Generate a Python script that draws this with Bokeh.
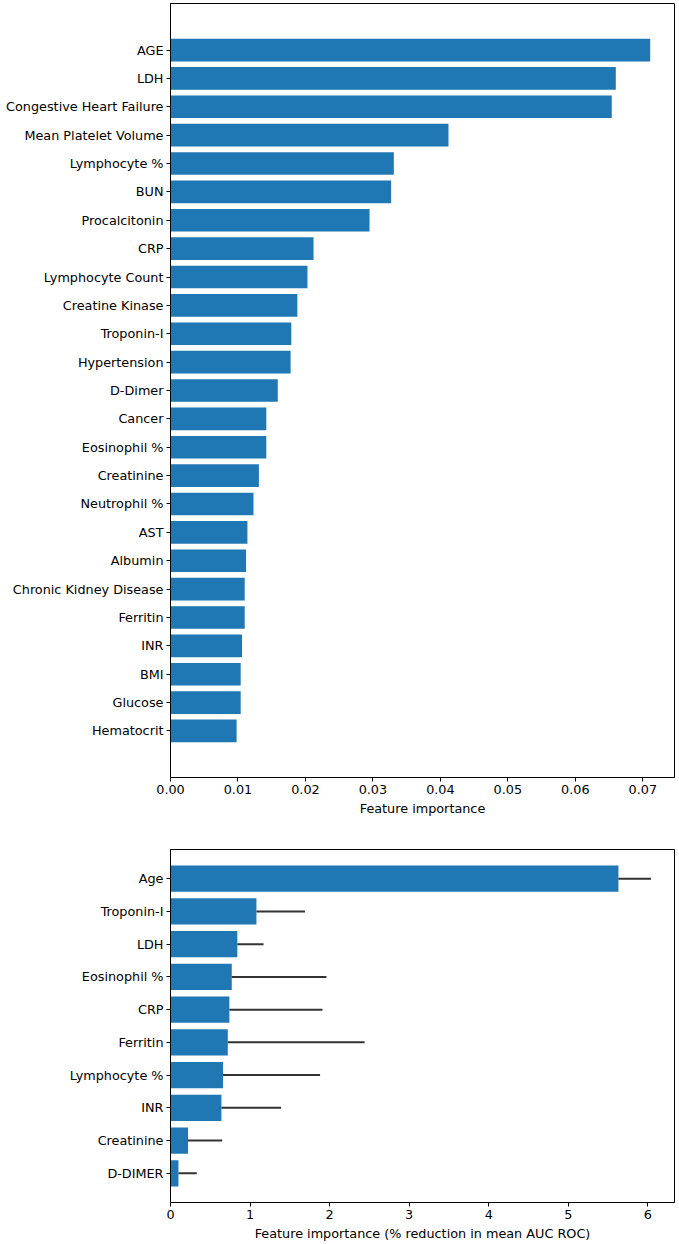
from bokeh.plotting import figure
from bokeh.models import FactorRange, Range1d, FixedTicker, NumeralTickFormatter, ColumnDataSource
from bokeh.layouts import column
from bokeh.embed import file_html
from bokeh.resources import INLINE

# ---- Data: top panel (top-to-bottom order) ----
top_features = ["AGE", "LDH", "Congestive Heart Failure", "Mean Platelet Volume",
                "Lymphocyte %", "BUN", "Procalcitonin", "CRP", "Lymphocyte Count",
                "Creatine Kinase", "Troponin-I", "Hypertension", "D-Dimer", "Cancer",
                "Eosinophil %", "Creatinine", "Neutrophil %", "AST", "Albumin",
                "Chronic Kidney Disease", "Ferritin", "INR", "BMI", "Glucose", "Hematocrit"]
top_values = [0.0711, 0.0660, 0.0654, 0.0412, 0.0331, 0.0327, 0.0295, 0.0212, 0.0203,
              0.0188, 0.0179, 0.0178, 0.0159, 0.0142, 0.0142, 0.0131, 0.0123, 0.0114,
              0.0112, 0.0110, 0.0110, 0.0106, 0.0104, 0.0104, 0.0098]
top_xticks = [0.0, 0.01, 0.02, 0.03, 0.04, 0.05, 0.06, 0.07]

# ---- Data: bottom panel ----
bot_features = ["Age", "Troponin-I", "LDH", "Eosinophil %", "CRP", "Ferritin",
                "Lymphocyte %", "INR", "Creatinine", "D-DIMER"]
bot_values = [5.63, 1.08, 0.84, 0.77, 0.74, 0.72, 0.66, 0.64, 0.22, 0.10]
bot_errors = [0.41, 0.61, 0.33, 1.19, 1.17, 1.72, 1.22, 0.75, 0.43, 0.23]
bot_xticks = [0, 1, 2, 3, 4, 5, 6]

BAR = "#1f77b4"
FONT = "DejaVu Sans"
FS = "12.8px"


def style(p):
    p.outline_line_color = "black"
    p.outline_line_width = 1
    p.xgrid.visible = False
    p.ygrid.visible = False
    for ax in (p.xaxis[0], p.yaxis[0]):
        ax.axis_line_color = "black"
        ax.major_tick_line_color = "black"
        ax.major_tick_in = 0
        ax.major_tick_out = 4
        ax.minor_tick_line_color = None
        ax.major_label_text_font = FONT
        ax.major_label_text_font_size = FS
        ax.major_label_text_color = "black"
        ax.major_label_standoff = 3
        ax.axis_label_text_font = FONT
        ax.axis_label_text_font_size = FS
        ax.axis_label_text_font_style = "normal"
        ax.axis_label_text_color = "black"
        ax.axis_label_standoff = 4


# ---- Top figure ----
top_src = ColumnDataSource(dict(f=top_features, v=top_values))
yr1 = FactorRange(factors=list(reversed(top_features)), range_padding=1.14,
                  range_padding_units="absolute")
p1 = figure(width=678, height=827, y_range=yr1, x_range=Range1d(0, 0.0747),
            output_backend="svg", toolbar_location=None,
            min_border_left=170, min_border_right=4, min_border_top=3, min_border_bottom=50)
p1.hbar(y="f", right="v", left=0, height=0.8, source=top_src, fill_color=BAR, line_color=None)
style(p1)
p1.xaxis.ticker = FixedTicker(ticks=top_xticks)
p1.xaxis.formatter = NumeralTickFormatter(format="0.00")
p1.xaxis.axis_label = "Feature importance"

# ---- Bottom figure ----
bot_src = ColumnDataSource(dict(f=bot_features, v=bot_values,
                                e=[v + e for v, e in zip(bot_values, bot_errors)]))
yr2 = FactorRange(factors=list(reversed(bot_features)), range_padding=0.39,
                  range_padding_units="absolute")
p2 = figure(width=678, height=416, y_range=yr2, x_range=Range1d(0, 6.335),
            output_backend="svg", toolbar_location=None,
            min_border_left=170, min_border_right=2, min_border_top=22, min_border_bottom=41)
p2.hbar(y="f", right="v", left=0, height=0.8, source=bot_src, fill_color=BAR, line_color=None)
p2.segment(x0="v", y0="f", x1="e", y1="f", source=bot_src, line_color="#333333", line_width=2)
style(p2)
p2.xaxis.ticker = FixedTicker(ticks=bot_xticks)
p2.xaxis.axis_label = "Feature importance (% reduction in mean AUC ROC)"

layout = column(p1, p2, spacing=0)
open("out.html", "w").write(file_html(layout, INLINE))
